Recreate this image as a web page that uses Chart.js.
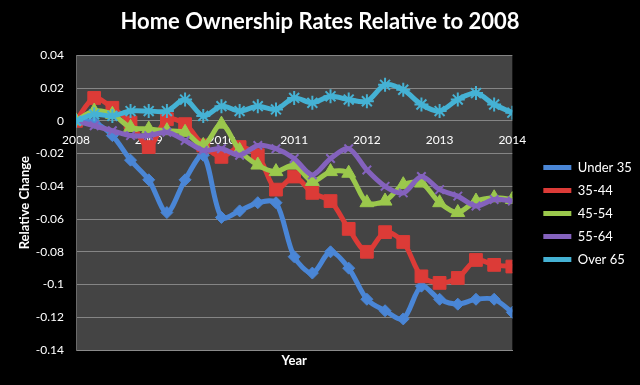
<!DOCTYPE html>
<html>
<head>
<meta charset="utf-8">
<script src="https://cdn.jsdelivr.net/npm/chart.js@4.4.1/dist/chart.umd.min.js"></script>
<style>
  html, body { margin: 0; padding: 0; background: #000; }
  #wrap { width: 640px; height: 385px; }
</style>
</head>
<body>
<div id="wrap"><canvas id="ownershipChart"></canvas></div>
<script>
// quarterly, 2008 Q1 .. 2014 Q1
const quarters = [2008, 2008.25, 2008.5, 2008.75, 2009, 2009.25, 2009.5, 2009.75,
  2010, 2010.25, 2010.5, 2010.75, 2011, 2011.25, 2011.5, 2011.75,
  2012, 2012.25, 2012.5, 2012.75, 2013, 2013.25, 2013.5, 2013.75, 2014];

const under35 = [0, -0.001, -0.009, -0.024, -0.036, -0.056, -0.036, -0.021, -0.059, -0.055,
  -0.050, -0.050, -0.083, -0.093, -0.080, -0.090, -0.109, -0.116, -0.121, -0.101,
  -0.109, -0.112, -0.109, -0.109, -0.117];
const age3544 = [0, 0.014, 0.008, -0.001, -0.016, 0.001, -0.002, -0.015, -0.022, -0.016,
  -0.021, -0.042, -0.034, -0.044, -0.049, -0.066, -0.080, -0.068, -0.074, -0.095,
  -0.099, -0.096, -0.085, -0.088, -0.089];
const age4554 = [0, 0.006, 0.004, -0.004, -0.005, -0.006, -0.007, -0.015, -0.002, -0.018,
  -0.027, -0.031, -0.027, -0.037, -0.031, -0.032, -0.050, -0.049, -0.039, -0.038,
  -0.050, -0.056, -0.049, -0.047, -0.048];
const age5564 = [0, -0.003, -0.006, -0.009, -0.009, -0.007, -0.012, -0.018, -0.017, -0.021,
  -0.015, -0.017, -0.023, -0.033, -0.023, -0.017, -0.030, -0.040, -0.044, -0.034,
  -0.042, -0.046, -0.052, -0.048, -0.049];
const over65 = [0, 0.004, 0.003, 0.006, 0.006, 0.006, 0.013, 0.003, 0.009, 0.006,
  0.009, 0.007, 0.014, 0.011, 0.015, 0.013, 0.012, 0.022, 0.019, 0.010,
  0.006, 0.013, 0.017, 0.010, 0.005];

const yTicks = [0.04, 0.02, 0, -0.02, -0.04, -0.06, -0.08, -0.1, -0.12, -0.14];

const FONT = 'Lato, "Open Sans", sans-serif';

function makeSeries(label, values, color, style, radius, order) {
  return {
    label,
    data: values,
    borderColor: color,
    backgroundColor: color,
    borderWidth: 5,
    tension: 0.3,
    pointStyle: style,
    pointRadius: radius,
    pointBorderWidth: style === 'crossRot' || style === 'star' ? 2 : 1,
    pointBorderColor: color,
    pointBackgroundColor: color,
    order
  };
}

// plot area fill + black page
const plotBg = {
  id: 'plotBg',
  beforeDraw(chart) {
    const { ctx, chartArea: a } = chart;
    ctx.save();
    ctx.fillStyle = '#000';
    ctx.fillRect(0, 0, chart.width, chart.height);
    ctx.fillStyle = '#444444';
    ctx.fillRect(a.left, a.top, a.right - a.left, a.bottom - a.top);
    ctx.restore();
  }
};

new Chart(document.getElementById('ownershipChart'), {
  type: 'line',
  data: {
    labels: quarters,
    datasets: [
      makeSeries('Under 35', under35, '#4a86d6', 'rectRot', 6, 5),
      makeSeries('35-44', age3544, '#dc3b37', 'rect', 9, 4),
      makeSeries('45-54', age4554, '#9bc84c', 'triangle', 8, 3),
      makeSeries('55-64', age5564, '#8462bd', 'crossRot', 6, 2),
      makeSeries('Over 65', over65, '#45b2d4', 'star', 7, 1)
    ]
  },
  options: {
    responsive: true,
    maintainAspectRatio: false,
    animation: false,
    layout: { padding: { left: 0, right: 0, top: 0, bottom: 0 } },
    plugins: {
      title: {
        display: true,
        text: 'Home Ownership Rates Relative to 2008',
        color: '#fff',
        font: { family: FONT, size: 22, weight: 'bold' },
        padding: { top: 9, bottom: 20 }
      },
      legend: {
        position: 'right',
        title: { display: true, text: '', font: { size: 14 }, padding: { top: 12, bottom: 13 } },
        labels: {
          color: '#fff',
          font: { family: FONT, size: 13 },
          boxWidth: 28,
          boxHeight: 5,
          padding: 10,
          generateLabels(chart) {
            return chart.data.datasets.map((d, i) => ({
              text: d.label,
              fillStyle: d.borderColor,
              strokeStyle: d.borderColor,
              lineWidth: 0,
              fontColor: '#fff',
              hidden: false,
              datasetIndex: i
            }));
          }
        }
      },
      tooltip: { enabled: false }
    },
    scales: {
      x: {
        type: 'linear',
        min: 2008,
        max: 2014,
        position: { y: 0 },
        grid: { display: false },
        border: { display: false },
        ticks: {
          stepSize: 1,
          autoSkip: false,
          maxRotation: 0,
          color: '#fff',
          padding: 4,
          font: { family: FONT, size: 12 },
          callback: v => String(v)
        }
      },
      xTitle: {
        type: 'linear',
        position: 'bottom',
        min: 0,
        max: 1,
        grid: { display: false },
        border: { display: true, color: '#8a8a8a', width: 1 },
        ticks: { display: false },
        title: {
          display: true,
          text: 'Year',
          color: '#fff',
          font: { family: FONT, size: 13, weight: 'bold' },
          padding: { top: 4, bottom: 16 }
        },
        afterFit(scale) { scale.height = 35; }
      },
      // empty strip between the plot and the legend
      gap: {
        type: 'linear',
        position: 'right',
        grid: { display: false },
        border: { display: false },
        ticks: { display: false },
        afterFit(scale) { scale.width = 21; }
      },
      y: {
        min: -0.14,
        max: 0.04,
        afterBuildTicks(scale) {
          scale.ticks = yTicks.map(v => ({ value: v }));
        },
        grid: { color: '#858585', lineWidth: 1, drawTicks: false },
        border: { display: true, color: '#6a6a6a' },
        ticks: {
          color: '#fff',
          padding: 12,
          font: { family: FONT, size: 12 },
          callback: v => String(Number(v.toFixed(2)))
        },
        title: {
          display: true,
          text: 'Relative Change',
          color: '#fff',
          font: { family: FONT, size: 13, weight: 'bold' },
          padding: { top: 17, bottom: 4 }
        },
        afterFit(scale) { scale.width = 76; }
      }
    }
  },
  plugins: [plotBg]
});
</script>
</body>
</html>
